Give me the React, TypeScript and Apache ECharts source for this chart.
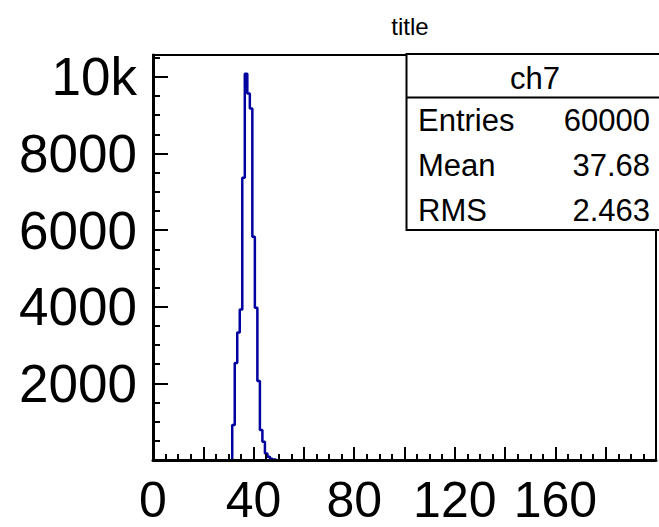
import React, { useEffect, useRef } from 'react';
import * as echarts from 'echarts';

// Histogram bin centres (bins of width 1) and their counts
const binCenters = [31, 32, 33, 34, 35, 36, 37, 38, 39, 40, 41, 42, 43, 44, 45, 46, 47, 48, 49];
const binCounts = [0, 913, 2530, 3330, 3930, 7366, 10080, 9565, 9175, 5826, 3975, 2061, 783, 478, 170, 85, 35, 12, 0];

// Axis tick labels
const xTickLabels = ['0', '40', '80', '120', '160'];
const yTickValues = [2000, 4000, 6000, 8000, 10000];
const yTickLabels = ['2000', '4000', '6000', '8000', '10k'];

// Stats box
const histTitle = 'title';
const statsName = 'ch7';
const statsKeys = ['Entries', 'Mean', 'RMS'];
const statsValues = ['60000', '37.68', '2.463'];

const FONT = '"Liberation Sans", Arial, Helvetica, sans-serif';

export default function App() {
  const ref = useRef<HTMLDivElement>(null);

  useEffect(() => {
    if (!ref.current) return;
    const chart = echarts.init(ref.current, null, { renderer: 'svg' });

    const xMin = 0, xMax = 200;
    const yMin = 0, yMax = 10570;

    const axisTickStyle = { color: '#000', width: 2 };

    const statsRows = statsKeys.map((k, i) => ({ k, v: statsValues[i] }));
    const rowY = [120, 165, 210];

    const option: any = {
      animation: false,
      backgroundColor: '#fff',
      grid: {
        left: 153,
        top: 55,
        right: -11,
        bottom: 67,
        show: true,
        borderColor: '#000',
        borderWidth: 2,
        backgroundColor: 'transparent',
      },
      xAxis: [
        {
          type: 'value',
          min: xMin,
          max: xMax,
          interval: 20,
          position: 'bottom',
          z: 10,
          axisLine: { show: true, onZero: false, lineStyle: { color: '#000', width: 3 } },
          axisTick: { show: true, inside: true, length: 13, lineStyle: axisTickStyle },
          axisLabel: {
            show: true,
            margin: 19,
            fontSize: 50,
            lineHeight: 42,
            fontFamily: FONT,
            color: '#000',
            formatter: (v: number) => (xTickLabels.includes(String(v)) ? String(v) : ''),
          },
          splitLine: { show: false },
        },
        {
          type: 'value',
          min: xMin,
          max: xMax,
          interval: 5,
          position: 'bottom',
          z: 10,
          axisLine: { show: false, onZero: false },
          axisTick: { show: true, inside: true, length: 6, lineStyle: axisTickStyle },
          axisLabel: { show: false },
          splitLine: { show: false },
        },
      ],
      yAxis: [
        {
          type: 'value',
          min: yMin,
          max: yMax,
          interval: 2000,
          position: 'left',
          z: 10,
          axisLine: { show: true, onZero: false, lineStyle: { color: '#000', width: 3 } },
          axisTick: { show: true, inside: true, length: 15, lineStyle: axisTickStyle },
          axisLabel: {
            show: true,
            margin: 16,
            fontSize: 53,
            lineHeight: 44,
            padding: [6, 0, 0, 0],
            fontFamily: FONT,
            color: '#000',
            formatter: (v: number) => {
              const i = yTickValues.indexOf(v);
              return i >= 0 ? yTickLabels[i] : '';
            },
          },
          splitLine: { show: false },
        },
        {
          type: 'value',
          min: yMin,
          max: yMax,
          interval: 500,
          position: 'left',
          z: 10,
          axisLine: { show: false, onZero: false },
          axisTick: { show: true, inside: true, length: 7, lineStyle: axisTickStyle },
          axisLabel: { show: false },
          splitLine: { show: false },
        },
      ],
      series: [
        {
          type: 'line',
          step: 'middle',
          xAxisIndex: 0,
          yAxisIndex: 0,
          data: binCenters.map((c, i) => [c, binCounts[i]]),
          symbol: 'none',
          lineStyle: { color: '#0000a0', width: 2.5 },
          z: 2,
        },
      ],
      graphic: [
        {
          type: 'text',
          z: 30,
          x: 410,
          y: 26,
          style: {
            text: histTitle,
            font: `24px ${FONT}`,
            fill: '#000',
            textAlign: 'center',
            textVerticalAlign: 'middle',
          },
        },
        {
          type: 'rect',
          z: 20,
          shape: { x: 406.5, y: 54, width: 280, height: 176 },
          style: { fill: '#fff', stroke: '#000', lineWidth: 2 },
        },
        {
          type: 'line',
          z: 21,
          shape: { x1: 406.5, y1: 97.5, x2: 700, y2: 97.5 },
          style: { stroke: '#000', lineWidth: 2 },
        },
        {
          type: 'text',
          z: 22,
          x: 535,
          y: 78,
          style: {
            text: statsName,
            font: `31px ${FONT}`,
            fill: '#000',
            textAlign: 'center',
            textVerticalAlign: 'middle',
          },
        },
        ...statsRows.flatMap((r, i) => [
          {
            type: 'text',
            z: 22,
            x: 418,
            y: rowY[i],
            style: {
              text: r.k,
              font: `31px ${FONT}`,
              fill: '#000',
              textAlign: 'left',
              textVerticalAlign: 'middle',
            },
          },
          {
            type: 'text',
            z: 22,
            x: 650,
            y: rowY[i],
            style: {
              text: r.v,
              font: `31px ${FONT}`,
              fill: '#000',
              textAlign: 'right',
              textVerticalAlign: 'middle',
            },
          },
        ]),
      ],
    };

    chart.setOption(option);
    return () => {
      chart.dispose();
    };
  }, []);

  return (
    <div
      ref={ref}
      style={{ position: 'absolute', left: 0, top: 0, width: 659, height: 527, background: '#fff' }}
    />
  );
}
